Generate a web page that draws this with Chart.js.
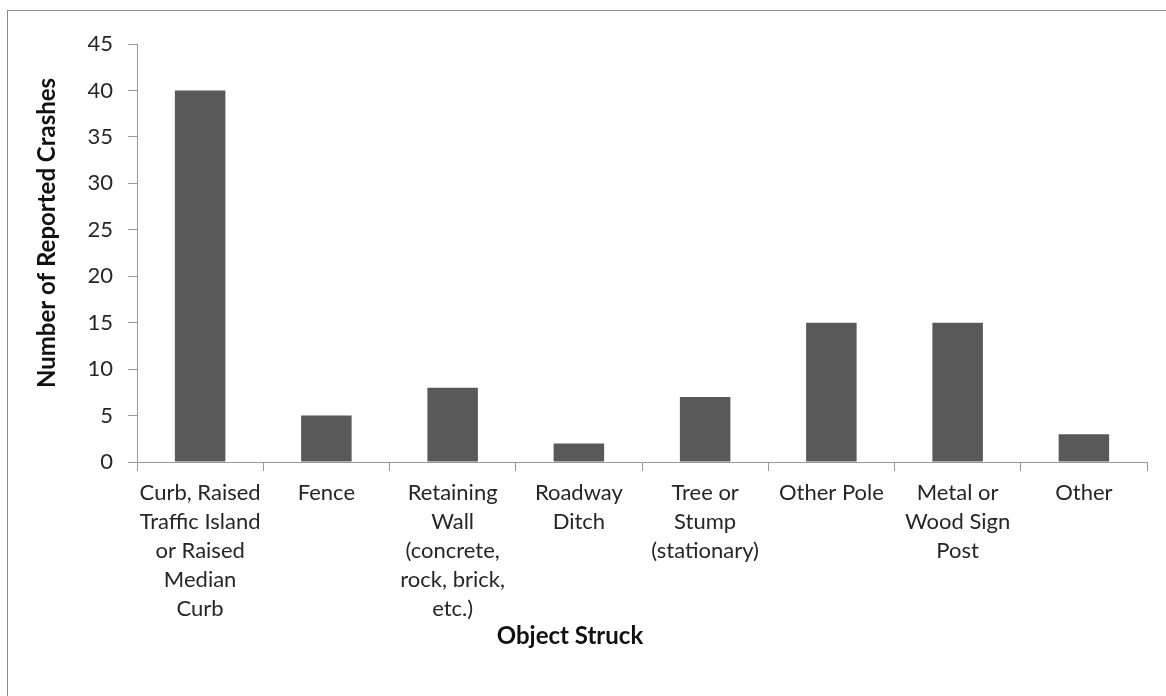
<!DOCTYPE html>
<html>
<head>
<meta charset="utf-8">
<script src="https://cdn.jsdelivr.net/npm/chart.js@4"></script>
<style>
  html, body { margin: 0; padding: 0; background: #fff; }
  #wrap { position: relative; width: 1166px; height: 696px; overflow: hidden; }
  #frame { position: absolute; left: 7px; top: 10px; width: 1300px; height: 800px;
           border-top: 1px solid #8c8c8c; border-left: 1px solid #8c8c8c; }
  canvas { position: absolute; left: 0; top: 0; }
</style>
</head>
<body>
<div id="wrap">
  <div id="frame"></div>
  <canvas id="barChart" width="1166" height="696"></canvas>
</div>
<script>
const categories = [
  ['Curb, Raised', 'Traffic Island', 'or Raised', 'Median', 'Curb'],
  ['Fence'],
  ['Retaining', 'Wall', '(concrete,', 'rock, brick,', 'etc.)'],
  ['Roadway', 'Ditch'],
  ['Tree or', 'Stump', '(stationary)'],
  ['Other Pole'],
  ['Metal or', 'Wood Sign', 'Post'],
  ['Other']
];
const crashes = [40, 5, 8, 2, 7, 15, 15, 3];
const yTicks = { min: 0, max: 45, step: 5 };
const yTitle = 'Number of Reported Crashes';
const xTitle = 'Object Struck';

const FONT = 'Lato, Calibri, sans-serif';
const textColor = '#262626';
const axisColor = '#999';

// axis titles drawn where Excel put them (not centred on the plot)
const axisTitles = {
  id: 'axisTitles',
  afterDraw(chart) {
    const ctx = chart.ctx;
    ctx.save();
    ctx.fillStyle = '#111';
    ctx.font = 'bold 24px ' + FONT;
    ctx.textAlign = 'center';
    ctx.textBaseline = 'middle';
    ctx.fillText(xTitle, 570, 636);
    ctx.translate(47, 233);
    ctx.rotate(-Math.PI / 2);
    ctx.fillText(yTitle, 0, 0);
    ctx.restore();
  }
};

const ctxBar = document.getElementById('barChart').getContext('2d');
new Chart(ctxBar, {
  type: 'bar',
  data: {
    labels: categories,
    datasets: [{
      label: 'Crashes',
      data: crashes,
      backgroundColor: '#595959',
      borderWidth: 0,
      barPercentage: 0.4,
      categoryPercentage: 1
    }]
  },
  options: {
    responsive: false,
    animation: false,
    layout: { padding: { left: 0, right: 19, top: 44, bottom: 0 } },
    plugins: { legend: { display: false }, tooltip: { enabled: false } },
    scales: {
      x: {
        grid: { drawOnChartArea: false, tickLength: 9, color: axisColor, offset: true },
        border: { color: axisColor },
        ticks: {
          color: textColor, maxRotation: 0, autoSkip: false, padding: 7,
          font: { family: FONT, size: 22, lineHeight: 29 / 22 }
        },
        afterFit(scale) { scale.height = 696 - 462; }
      },
      y: {
        min: yTicks.min, max: yTicks.max,
        grid: { drawOnChartArea: false, tickLength: 9, color: axisColor },
        border: { color: axisColor },
        ticks: {
          stepSize: yTicks.step, color: textColor, padding: 15,
          font: { family: FONT, size: 22 }
        },
        afterFit(scale) { scale.width = 137; }
      }
    }
  },
  plugins: [axisTitles]
});
</script>
</body>
</html>
